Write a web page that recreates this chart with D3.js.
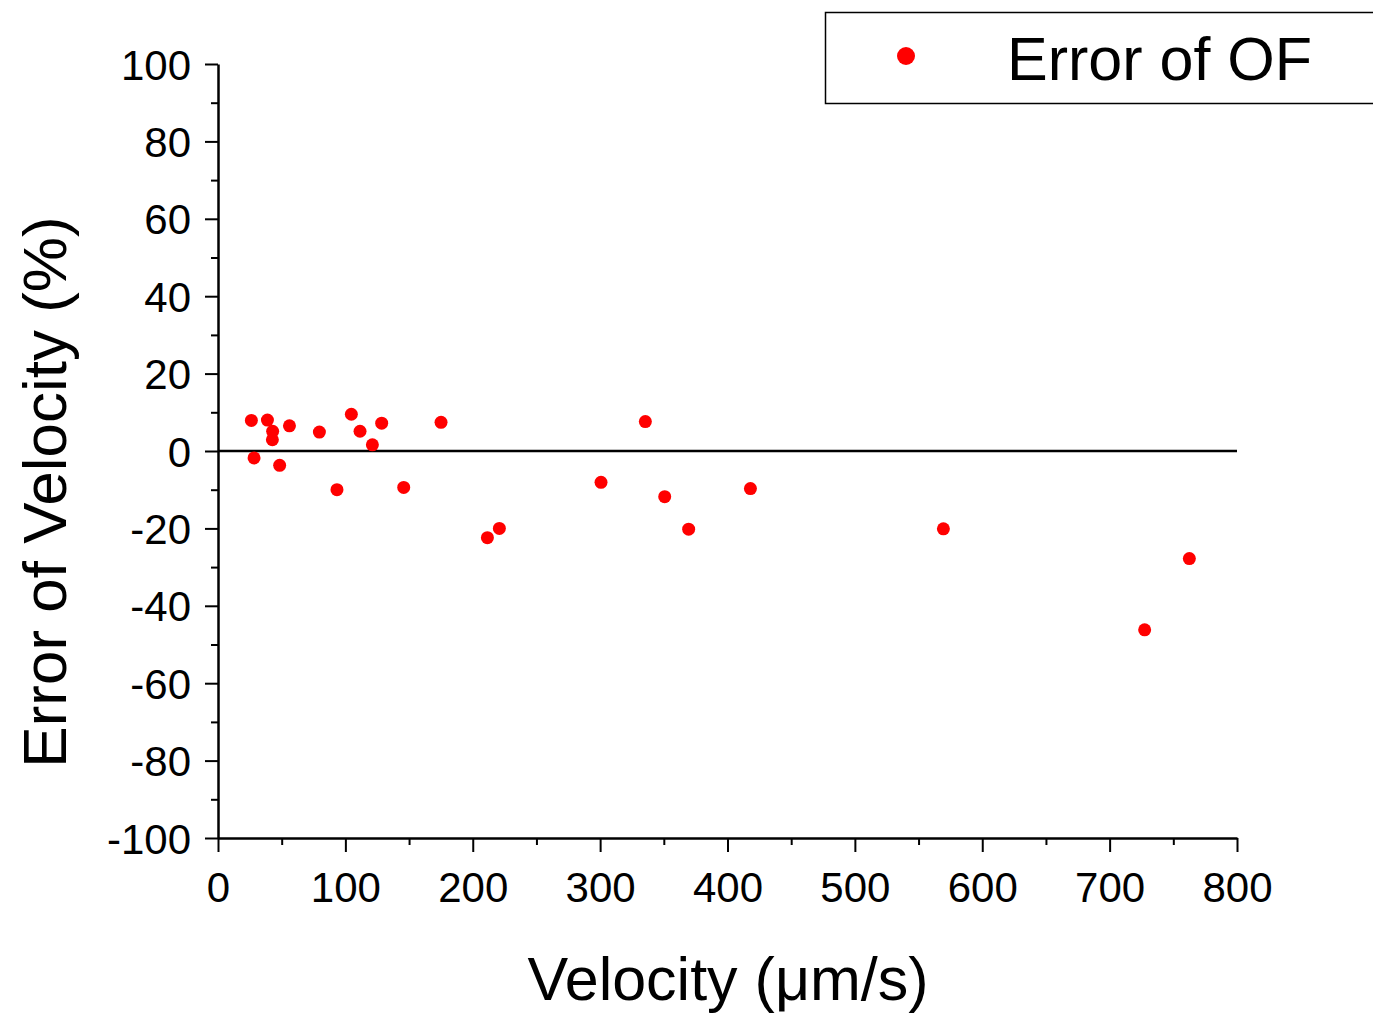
<!DOCTYPE html>
<html>
<head>
<meta charset="utf-8">
<script src="https://cdn.jsdelivr.net/npm/d3@7"></script>
<style>
  body { margin: 0; background: #fff; }
  svg { font-family: "Liberation Sans", Arial, sans-serif; }
</style>
</head>
<body>
<svg id="chart" width="1373" height="1014"></svg>
<script>
// the data
var velocity = [26.2, 28.3, 38.8, 42.9, 42.7, 48.4, 56.1, 79.6, 93.4, 104.7, 111.5, 121.2, 128.5, 145.8, 175.1, 211.5, 220.9, 300.7, 335.5, 350.7, 369.5, 418.0, 569.5, 727.5, 762.6]
var errorOF = [7.9, -1.8, 8.0, 5.1, 2.9, -3.7, 6.5, 4.9, -10.0, 9.5, 5.1, 1.6, 7.2, -9.4, 7.4, -22.4, -20.0, -8.1, 7.6, -11.8, -20.2, -9.7, -20.1, -46.2, -27.8]
var xTicks = [0, 100, 200, 300, 400, 500, 600, 700, 800]
var yTicks = [100, 80, 60, 40, 20, 0, -20, -40, -60, -80, -100]
var seriesName = 'Error of OF'

var margin = { left: 218, top: 64, right: 136, bottom: 176 },
    width = 1019,
    height = 774

var svg = d3.select('#chart')
var chartGroup = svg.append('g')
    .attr('transform', 'translate(' + margin.left + ',' + margin.top + ')')

var xScale = d3.scaleLinear().domain([0, 800]).range([0, width])
var yScale = d3.scaleLinear().domain([-100, 100]).range([height, 0])

// minor ticks first, then major on top
chartGroup.append('g')
    .attr('transform', 'translate(0,' + height + ')')
    .call(d3.axisBottom(xScale).tickValues(d3.range(50, 800, 100)).tickSize(7).tickFormat(''))
    .call(g => g.select('.domain').remove())
    .selectAll('line').attr('stroke-width', 2)

chartGroup.append('g')
    .call(d3.axisLeft(yScale).tickValues(d3.range(-90, 100, 20)).tickSize(7).tickFormat(''))
    .call(g => g.select('.domain').remove())
    .selectAll('line').attr('stroke-width', 2)

var xAxis = chartGroup.append('g')
    .attr('transform', 'translate(0,' + height + ')')
    .call(d3.axisBottom(xScale).tickValues(xTicks).tickSize(14).tickSizeOuter(0).tickPadding(20).tickFormat(d => String(d)))
xAxis.select('.domain').attr('stroke-width', 2.5)
xAxis.selectAll('line').attr('stroke-width', 2)
xAxis.selectAll('text').attr('font-size', 42).attr('font-family', 'Liberation Sans, Arial, sans-serif').attr('fill', '#000')

var yAxis = chartGroup.append('g')
    .call(d3.axisLeft(yScale).tickValues(yTicks).tickSize(13).tickSizeOuter(0).tickPadding(14).tickFormat(d => String(d)))
yAxis.select('.domain').attr('stroke-width', 2.5)
yAxis.selectAll('line').attr('stroke-width', 2)
yAxis.selectAll('text').attr('font-size', 42).attr('dy', '0.36em').attr('font-family', 'Liberation Sans, Arial, sans-serif').attr('fill', '#000')

// zero line
chartGroup.append('line')
    .attr('x1', xScale(0)).attr('x2', xScale(800))
    .attr('y1', yScale(0)).attr('y2', yScale(0))
    .attr('stroke', '#000').attr('stroke-width', 2.5)

// points
chartGroup.selectAll('circle.pt')
    .data(velocity)
    .enter()
    .append('circle')
    .attr('class', 'pt')
    .attr('cx', d => xScale(d))
    .attr('cy', (d, i) => yScale(errorOF[i]))
    .attr('r', 6.5)
    .attr('fill', '#ff0000')

// axis titles
svg.append('text')
    .attr('x', 728)
    .attr('y', 1000)
    .attr('text-anchor', 'middle')
    .attr('font-size', 61)
    .text('Velocity (\u03bcm/s)')

svg.append('text')
    .attr('transform', 'translate(66,' + 492 + ') rotate(-90)')
    .attr('text-anchor', 'middle')
    .attr('font-size', 62)
    .text('Error of Velocity (%)')

// legend
var legend = svg.append('g')
legend.append('rect')
    .attr('x', 825.5).attr('y', 12.5)
    .attr('width', 560).attr('height', 91)
    .attr('fill', 'none').attr('stroke', '#000').attr('stroke-width', 1.5)
legend.append('circle')
    .attr('cx', 906).attr('cy', 56).attr('r', 9)
    .attr('fill', '#ff0000')
legend.append('text')
    .attr('x', 1007).attr('y', 80)
    .attr('font-size', 61)
    .text(seriesName)
</script>
</body>
</html>
